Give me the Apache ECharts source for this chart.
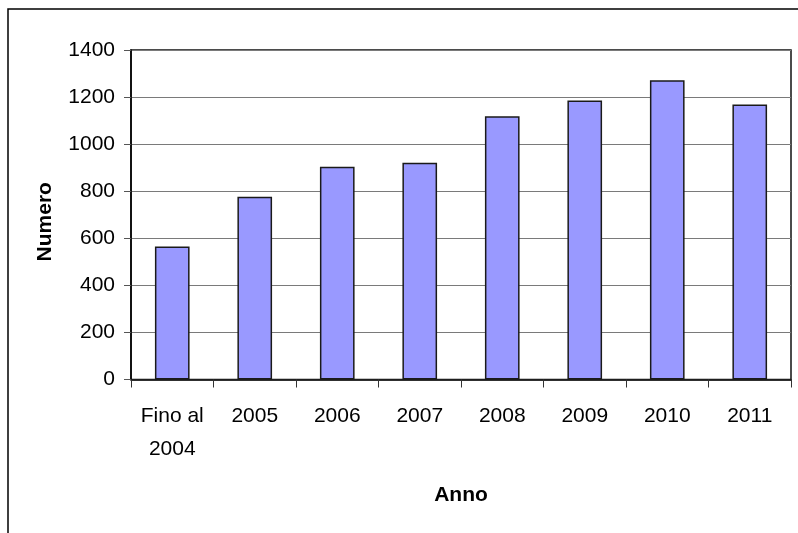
<!DOCTYPE html>
<html>
<head>
<meta charset="utf-8">
<script src="https://cdn.jsdelivr.net/npm/echarts@6/dist/echarts.min.js"></script>
<style>
  html, body { margin: 0; padding: 0; background: #fff; }
  #chart { width: 798px; height: 533px; }
</style>
</head>
<body>
<div id="chart"></div>
<script>
// Number per year
const categories = ['Fino al\n2004', '2005', '2006', '2007', '2008', '2009', '2010', '2011'];
const values = [565, 776, 904, 921, 1119, 1185, 1272, 1168];
const yTicks = { min: 0, max: 1400, interval: 200 };

const FONT = '"Liberation Sans", Arial, sans-serif';

const chart = echarts.init(document.getElementById('chart'), null, { renderer: 'canvas' });

chart.setOption({
  animation: false,
  backgroundColor: '#ffffff',
  graphic: [{
    type: 'rect',
    shape: { x: 8, y: 9, width: 900, height: 700 },
    style: { fill: 'none', stroke: '#000', lineWidth: 1.5 },
    silent: true,
    z: -10
  }],
  grid: {
    left: 131, top: 50, right: 7, bottom: 153.5,
    show: true, borderColor: '#111', borderWidth: 1.5, backgroundColor: 'transparent'
  },
  xAxis: {
    type: 'category',
    data: categories,
    name: 'Anno',
    nameLocation: 'middle',
    nameGap: 105,
    nameTextStyle: { fontFamily: FONT, fontSize: 21, fontWeight: 'bold', color: '#000' },
    axisLine: { lineStyle: { color: '#000', width: 1.5 } },
    axisTick: { show: true, alignWithLabel: false, length: 8, lineStyle: { color: '#333', width: 1 } },
    axisLabel: {
      fontFamily: FONT, fontSize: 21, color: '#000', margin: 20, lineHeight: 33, interval: 0
    },
    splitLine: { show: false }
  },
  yAxis: {
    type: 'value',
    min: yTicks.min, max: yTicks.max, interval: yTicks.interval,
    name: 'Numero',
    nameLocation: 'middle',
    nameGap: 75,
    nameRotate: 90,
    nameTextStyle: { fontFamily: FONT, fontSize: 21, fontWeight: 'bold', color: '#000', padding: [0, 14, 0, 0] },
    axisLine: { show: true, lineStyle: { color: '#000', width: 1.5 } },
    axisTick: { show: true, inside: false, length: 7, lineStyle: { color: '#555', width: 1 } },
    axisLabel: { fontFamily: FONT, fontSize: 21, color: '#000', margin: 16, formatter: v => String(v) },
    splitLine: { show: true, lineStyle: { color: '#7a7a7a', width: 1 } }
  },
  series: [{
    type: 'bar',
    data: values,
    barWidth: '42%',
    itemStyle: { color: '#9999ff', borderColor: '#1a1a1a', borderWidth: 1.5 }
  }]
});
</script>
</body>
</html>
